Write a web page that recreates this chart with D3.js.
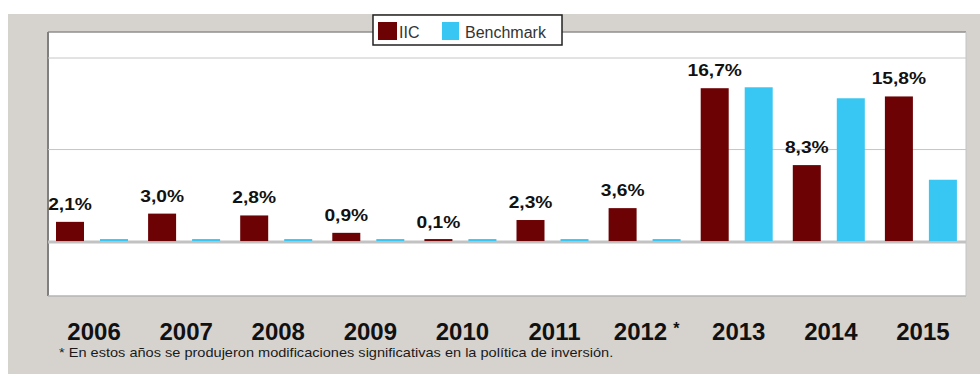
<!DOCTYPE html>
<html>
<head>
<meta charset="utf-8">
<script src="https://cdn.jsdelivr.net/npm/d3@7"></script>
<style>
  html, body { margin: 0; padding: 0; background: #ffffff; }
  svg { display: block; }
  text { font-family: "Liberation Sans", Arial, sans-serif; }
</style>
</head>
<body>
<svg id="chart" width="980" height="376"></svg>
<script>
// Annual returns (%) of the IIC fund against its benchmark
const years = ["2006", "2007", "2008", "2009", "2010", "2011", "2012", "2013", "2014", "2015"];
const yearLabels = ["2006", "2007", "2008", "2009", "2010", "2011", "2012", "2013", "2014", "2015"];
const yearMarks = ["", "", "", "", "", "", "*", "", "", ""];
const iic = [2.1, 3.0, 2.8, 0.9, 0.1, 2.3, 3.6, 16.7, 8.3, 15.8];
const benchmark = [0, 0, 0, 0, 0, 0, 0, 16.8, 15.6, 6.7];
const seriesNames = ["IIC", "Benchmark"];
const gridTicks = [10, 20];
const footnote = "* En estos años se produjeron modificaciones significativas en la política de inversión.";

const colors = { IIC: "#6c0204", Benchmark: "#38c6f2" };

const svg = d3.select("#chart");

// Outer grey panel and white plotting frame
const frame = { left: 48, right: 966, top: 32, bottom: 296 };
svg.append("rect").attr("x", 8).attr("y", 14).attr("width", 972).attr("height", 360)
  .attr("fill", "#d6d3ce");
svg.append("rect").attr("x", frame.left).attr("y", frame.top)
  .attr("width", frame.right - frame.left).attr("height", frame.bottom - frame.top)
  .attr("fill", "#ffffff");
svg.append("line").attr("x1", frame.left).attr("x2", frame.right)
  .attr("y1", frame.top).attr("y2", frame.top).attr("stroke", "#8f8f8f").attr("stroke-width", 1.5);
svg.append("line").attr("x1", frame.left).attr("x2", frame.left)
  .attr("y1", frame.top).attr("y2", frame.bottom).attr("stroke", "#808080").attr("stroke-width", 2);
svg.append("line").attr("x1", frame.left).attr("x2", frame.right)
  .attr("y1", frame.bottom).attr("y2", frame.bottom).attr("stroke", "#b4b4b4").attr("stroke-width", 1.5);
svg.append("line").attr("x1", frame.right).attr("x2", frame.right)
  .attr("y1", frame.top).attr("y2", frame.bottom).attr("stroke", "#c4c4c4").attr("stroke-width", 1);

// Scales
const x0 = d3.scaleBand().domain(years).range([48, 969]).paddingInner(0).paddingOuter(0);
const x1 = d3.scaleBand().domain(seriesNames).range([8, 80]).paddingInner(0.3636).paddingOuter(0);
const y = d3.scaleLinear().domain([-6, 20]).range([296, 58]);

// Gridlines
svg.append("g").selectAll("line").data(gridTicks).join("line")
  .attr("x1", frame.left).attr("x2", frame.right)
  .attr("y1", d => y(d)).attr("y2", d => y(d))
  .attr("stroke", "#c6c6c6").attr("stroke-width", 1);

// Zero baseline
svg.append("line").attr("x1", frame.left).attr("x2", frame.right)
  .attr("y1", y(0) + 1).attr("y2", y(0) + 1)
  .attr("stroke", "#c2c2c2").attr("stroke-width", 3);

// Bars
const rows = years.map((yr, i) => ({ year: yr, IIC: iic[i], Benchmark: benchmark[i] }));
const groups = svg.append("g").selectAll("g").data(rows).join("g")
  .attr("transform", d => `translate(${x0(d.year)},0)`);

groups.selectAll("rect").data(d => seriesNames.map(k => ({ key: k, value: d[k] }))).join("rect")
  .attr("x", d => x1(d.key))
  .attr("width", x1.bandwidth())
  .attr("y", d => Math.min(y(d.value), y(0) - 2))
  .attr("height", d => Math.max(y(0) - y(d.value), 2))
  .attr("fill", d => colors[d.key]);

// Value labels above the IIC bars
const fmt = v => v.toFixed(1).replace(".", ",") + "%";
svg.append("g").selectAll("text").data(rows).join("text")
  .attr("transform", d => `translate(${x0(d.year) + x1("IIC") + x1.bandwidth() / 2},${y(d.IIC) - 12}) scale(1.2,1)`)
  .attr("text-anchor", "middle")
  .attr("font-size", 16).attr("font-weight", "bold").attr("fill", "#111")
  .text(d => fmt(d.IIC));

// Year labels
const yearText = svg.append("g").selectAll("text").data(years).join("text")
  .attr("x", d => x0(d) + x0.bandwidth() / 2)
  .attr("y", 340)
  .attr("text-anchor", "middle")
  .attr("font-size", 24).attr("font-weight", "bold").attr("fill", "#111");
yearText.append("tspan").text((d, i) => yearLabels[i]);
yearText.filter((d, i) => yearMarks[i] !== "").append("tspan")
  .attr("font-size", 16).attr("dx", 6).attr("dy", -6)
  .text((d, i) => yearMarks[years.indexOf(d)]);

// Footnote
svg.append("text").attr("transform", "translate(59,357) scale(1.12,1)")
  .attr("font-size", 13).attr("fill", "#1a1a1a")
  .text(footnote);

// Legend
const legend = svg.append("g");
legend.append("rect").attr("x", 373).attr("y", 15).attr("width", 189).attr("height", 30)
  .attr("fill", "#ffffff").attr("stroke", "#222").attr("stroke-width", 1.5);
const legendItems = [
  { key: "IIC", sx: 378, sw: 19, tx: 399 },
  { key: "Benchmark", sx: 442, sw: 17, tx: 465 }
];
legend.selectAll("rect.sw").data(legendItems).join("rect").attr("class", "sw")
  .attr("x", d => d.sx).attr("y", 22).attr("width", d => d.sw).attr("height", 18)
  .attr("fill", d => colors[d.key]);
legend.selectAll("text").data(legendItems).join("text")
  .attr("x", d => d.tx).attr("y", 38)
  .attr("font-size", 16).attr("fill", "#333")
  .text(d => d.key);
</script>
</body>
</html>
